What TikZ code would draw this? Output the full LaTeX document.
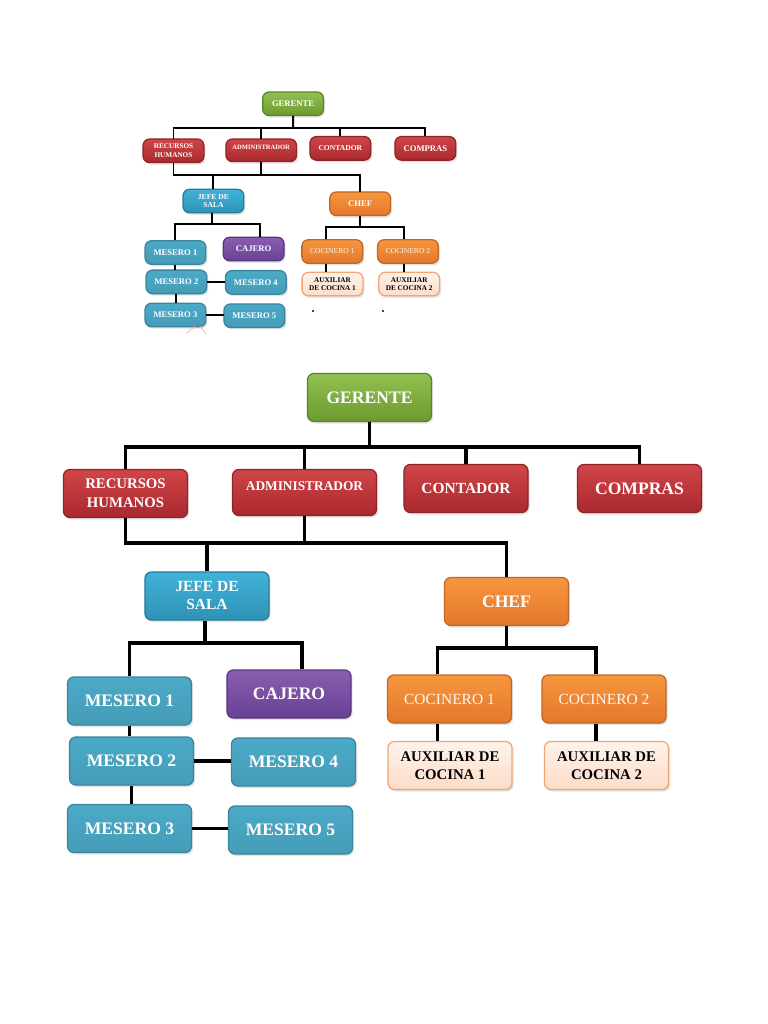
\documentclass[tikz,border=0pt]{standalone}
\usepackage{fontspec}
\setmainfont{Liberation Serif}
\usetikzlibrary{positioning, calc, shadows}
\definecolor{verdeA}{HTML}{93C052}
\definecolor{verdeB}{HTML}{6C9A2E}
\definecolor{rojoA}{HTML}{D04548}
\definecolor{rojoB}{HTML}{A9292D}
\definecolor{azulA}{HTML}{42B2D8}
\definecolor{azulB}{HTML}{2E92B5}
\definecolor{mesero}{HTML}{4BAAC7}
\definecolor{moradoA}{HTML}{8A5DB0}
\definecolor{moradoB}{HTML}{674195}
\definecolor{naranjaA}{HTML}{F7963F}
\definecolor{naranjaB}{HTML}{E3782A}
\definecolor{cremaA}{HTML}{FFF3EB}
\definecolor{cremaB}{HTML}{FCDCC8}
\definecolor{cremaD}{HTML}{F2A574}
\tikzset{
  caja/.style={rectangle,rounded corners=0.16cm,line width=0.9pt,align=center,
    minimum width=3.1cm,minimum height=1.2cm,inner sep=1pt,text=white,
    drop shadow={opacity=0.22,shadow xshift=0.04cm,shadow yshift=-0.05cm}},
  cajac/.style 2 args={caja,draw=#2!85!black,top color=#1,bottom color=#2},
  grande/.style={font=\bfseries\fontsize{12.5}{14}\selectfont},
  chica/.style={font=\fontsize{11}{13.5}\selectfont},
  chicab/.style={font=\bfseries\fontsize{10.5}{12.5}\selectfont},
}

\begin{document}
\begin{tikzpicture}[x=0.025cm,y=-0.025cm]
  \useasboundingbox[fill=white] (0,0) rectangle (768,1024);
  % el organigrama: grande abajo, copia reducida arriba
  \foreach \pre/\dx/\dy/\esc/\grosor/\aux in
      {g-/0/0/1/2.5pt/{AUXILIAR DE\\COCINA}, p-/112/-91/0.49/1.4pt/{AUXILIAR\\DE COCINA}} {
  \begin{scope}[shift={(\dx,\dy)},scale=\esc,transform shape,name prefix=\pre,
      enlace/.style={draw=black,line width=\grosor}]
    \node[cajac={verdeA}{verdeB},grande] (ger) at (369.5,397.5) {GERENTE};
    \node[cajac={rojoA}{rojoB},chicab,font=\bfseries\fontsize{10.5}{13.5}\selectfont] (rh) at (125.5,493.5) {RECURSOS\\HUMANOS};
    \node[cajac={rojoA}{rojoB},font=\bfseries\fontsize{9.5}{11}\selectfont,minimum width=3.6cm,minimum height=1.15cm,
      text height=0.25cm,text depth=0.35cm] (adm) at (304.5,492.5) {ADMINISTRADOR};
    \node[cajac={rojoA}{rojoB},font=\bfseries\fontsize{11}{13}\selectfont] (con) at (466,488.5) {CONTADOR};
    \node[cajac={rojoA}{rojoB},grande] (com) at (639.5,488.5) {COMPRAS};
    \node[cajac={azulA}{azulB},font=\bfseries\fontsize{11}{12.8}\selectfont] (jefe) at (207,596) {JEFE DE\\SALA};
    \node[cajac={naranjaA}{naranjaB},grande] (chef) at (506.5,601.5) {CHEF};
    \node[cajac={moradoA}{moradoB},grande] (caj) at (289,694) {CAJERO};
    \foreach \n/\x/\y/\t in {m1/129.5/701/1, m2/131.5/761/2, m3/129.5/828.5/3,
        m4/293.5/762/4, m5/290.5/830/5}
      \node[cajac={mesero}{mesero!92!black},grande] (\n) at (\x,\y) {MESERO \t};
    \node[cajac={naranjaA}{naranjaB},chica,text=white!94!orange] (c1) at (449.5,699) {COCINERO 1};
    \node[cajac={naranjaA}{naranjaB},chica,text=white!94!orange] (c2) at (604,699) {COCINERO 2};
    \node[caja,draw=cremaD,top color=cremaA,bottom color=cremaB,chicab,text=black] (a1) at (450,765.5) {\aux\ 1};
    \node[caja,draw=cremaD,top color=cremaA,bottom color=cremaB,chicab,text=black] (a2) at (606.5,765.5) {\aux\ 2};

    \coordinate (b1) at (369.5,447);
    \coordinate (b2) at (304.5,543);
    \coordinate (b3) at (205,643);
    \coordinate (b4) at (506.5,648);
    \coordinate (cj) at ($(caj.north)+(13,0)$);
    \coordinate (k1) at ($(c1.north)+(-12,0)$);
    \coordinate (k2) at ($(c2.north)+(-8,0)$);

    \draw[enlace] (b3 |- jefe.south) -- (b3);
    \draw[enlace] (ger) -- (b1);
    \draw[enlace] (rh.north) |- (com.north |- b1) -- (com.north);
    \foreach \n in {adm,con}
      \draw[enlace] (\n.north) -- (\n.north |- b1);
    \draw[enlace] (rh.south) |- (chef.north |- b2) -- (chef.north);
    \draw[enlace] (adm.south) -- (b2);
    \draw[enlace] (jefe.north) -- (jefe.north |- b2);
    \draw[enlace] (m1.north) |- (cj |- b3) -- (cj);
    \draw[enlace] (m1.south) -- (m1.south |- m2.north);
    \draw[enlace] (m2.south) -- (m2.south |- m3.north);
    \draw[enlace] (m2.east) -- (m2.east -| m4.west);
    \draw[enlace] (m3.east) -- (m3.east -| m5.west);
    \draw[enlace] (chef.south) -- (b4);
    \draw[enlace] (k1) |- (b4) -| (k2);
    \draw[enlace] (k1 |- c1.south) -- (k1 |- a1.north);
    \draw[enlace] (k2 |- c2.south) -- (k2 |- a2.north);
  \end{scope}
  }
  % restos de la imagen reducida
  \fill (313,311) circle (0.8pt);
  \fill (383,311) circle (0.8pt);
  \draw[red!40,line width=0.4pt] (186,334) -- (195,326) (200,326) -- (206,334);
\end{tikzpicture}
\end{document}
